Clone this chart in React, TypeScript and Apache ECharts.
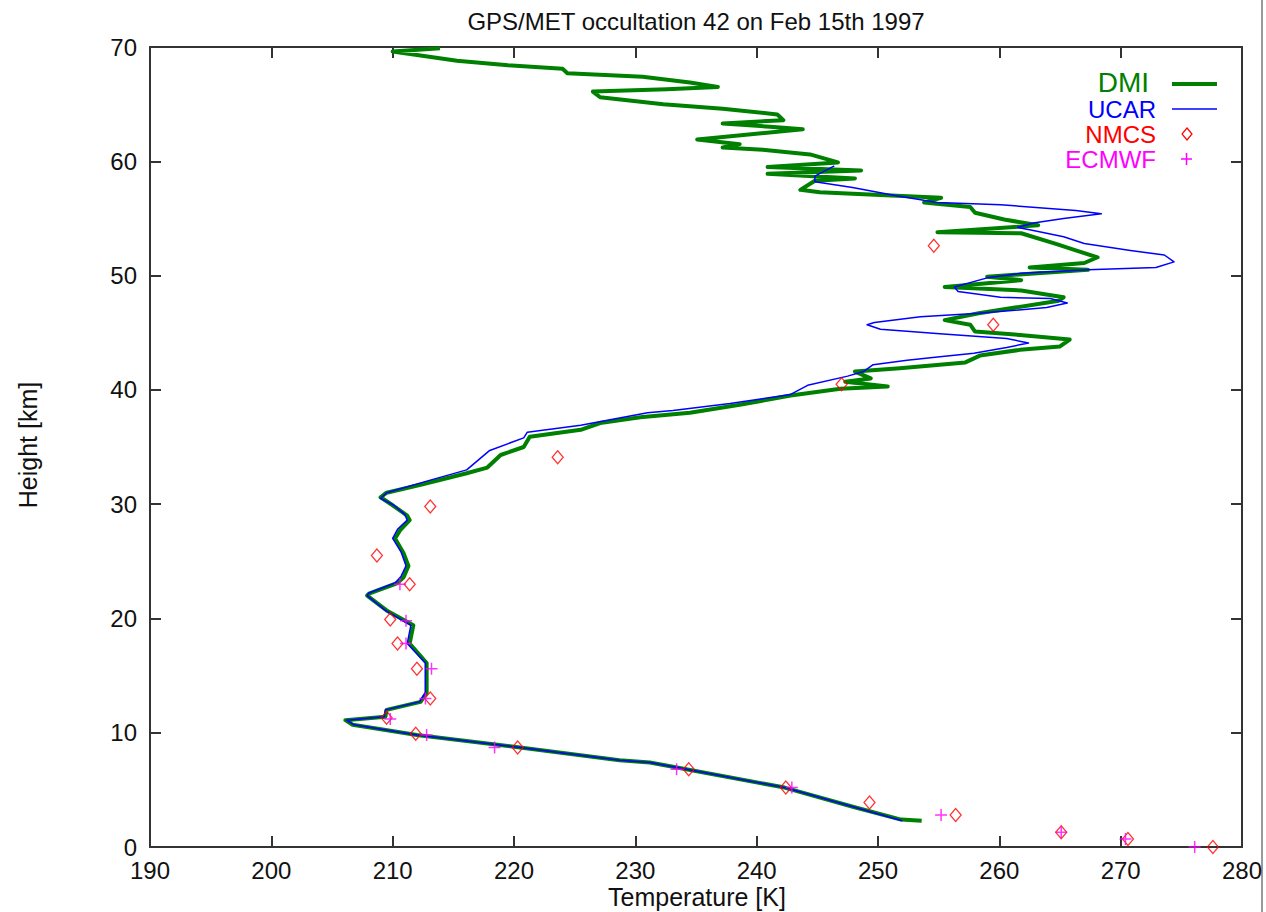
import React, { useEffect, useRef } from "react";
import * as echarts from "echarts";

const TITLE = "GPS/MET occultation 42 on Feb 15th 1997";
const X_NAME = "Temperature [K]";
const Y_NAME = "Height [km]";
const X_MIN = 190;
const X_MAX = 280;
const X_STEP = 10;
const Y_MIN = 0;
const Y_MAX = 70;
const Y_STEP = 10;

const legendNames = ["DMI", "UCAR", "NMCS", "ECMWF"];

const dmiTemperature = [
  213.9, 210.0, 215.3, 219.5, 224.0, 224.4, 230.6, 234.5, 236.8, 232.6, 226.5, 227.1, 232.3, 237.2, 241.7, 242.2,
  237.2, 241.4, 243.8, 235.1, 238.6, 237.2, 240.5, 244.4, 246.7, 240.9, 248.6, 240.9, 248.1, 244.8, 243.6, 245.2,
  255.2, 253.8, 257.6, 258.0, 260.4, 263.2, 254.9, 261.8, 264.6, 266.3, 268.1, 267.0, 262.5, 267.3, 259.0, 261.8,
  255.5, 261.8, 265.3, 264.9, 258.3, 255.5, 257.6, 258.0, 261.7, 265.8, 265.0, 261.7, 258.4, 257.2, 251.8, 248.1,
  249.4, 247.3, 250.8, 246.9, 242.8, 238.6, 234.5, 230.4, 227.1, 225.5, 221.3, 220.8, 218.9, 217.8, 216.1, 212.3,
  209.5, 209.0, 210.0, 211.2, 211.4, 210.6, 210.2, 210.9, 211.3, 210.9, 210.4, 208.1, 207.9, 209.5, 211.7, 211.4,
  212.8, 212.8, 212.3, 209.5, 209.4, 206.1, 206.7, 212.0, 220.5, 228.7, 231.2, 242.3, 248.0, 251.9, 253.6,
];
const dmiHeight = [
  69.9, 69.6, 68.8, 68.4, 68.1, 67.7, 67.4, 66.9, 66.5, 66.3, 66.1, 65.6, 65.0, 64.6, 64.1, 63.6,
  63.3, 63.0, 62.8, 61.9, 61.5, 61.2, 61.0, 60.6, 59.9, 59.5, 59.2, 58.9, 58.5, 58.3, 57.5, 57.3,
  56.8, 56.4, 56.0, 55.5, 54.9, 54.4, 53.8, 53.7, 52.8, 52.2, 51.6, 51.1, 50.7, 50.5, 49.9, 49.6,
  49.0, 48.7, 48.1, 47.8, 46.7, 46.1, 45.7, 45.1, 44.8, 44.4, 43.8, 43.5, 43.0, 42.4, 41.9, 41.6,
  41.0, 40.7, 40.3, 40.1, 39.5, 38.7, 38.0, 37.6, 37.1, 36.5, 35.9, 35.0, 34.3, 33.2, 32.7, 31.7,
  31.0, 30.6, 29.9, 29.0, 28.6, 27.7, 27.0, 25.7, 24.6, 23.6, 23.1, 22.2, 22.0, 20.7, 19.4, 17.8,
  16.1, 13.5, 12.7, 12.0, 11.4, 11.1, 10.7, 9.8, 8.7, 7.6, 7.4, 5.2, 3.5, 2.4, 2.3,
];

const ucarTemperature = [
  246.4, 244.8, 244.8, 247.9, 251.4, 254.9, 260.1, 266.3, 268.4, 265.3, 262.8, 261.5, 262.5, 265.3, 267.0, 270.8,
  273.6, 274.4, 272.9, 267.3, 261.8, 259.0, 256.3, 256.6, 260.1, 264.2, 265.6, 263.9, 258.3, 253.5, 249.7, 249.1,
  250.2, 255.1, 260.6, 262.4, 260.6, 257.9, 255.1, 252.4, 249.6, 248.8, 247.5, 244.2, 242.8, 237.8, 233.1, 231.0,
  225.5, 221.1, 220.8, 218.0, 216.1, 213.1, 209.5, 209.0, 210.1, 211.0, 211.2, 210.4, 210.0, 210.7, 211.1, 210.7,
  210.2, 208.0, 207.9, 209.4, 211.5, 211.2, 212.7, 212.7, 212.2, 209.4, 209.3, 206.2, 206.8, 212.0, 220.5, 228.7,
  231.2, 242.3, 248.0, 252.0,
];
const ucarHeight = [
  59.6, 58.7, 58.2, 57.7, 57.0, 56.4, 56.2, 55.7, 55.4, 55.0, 54.6, 54.2, 54.0, 53.4, 52.8, 52.2,
  51.8, 51.2, 50.7, 50.5, 50.2, 49.8, 49.0, 48.6, 48.1, 48.0, 47.6, 47.2, 46.7, 46.4, 45.9, 45.7,
  45.3, 44.9, 44.5, 44.1, 43.7, 43.2, 42.9, 42.6, 42.2, 41.6, 41.2, 40.4, 39.6, 38.8, 38.2, 38.0,
  36.9, 36.3, 35.8, 34.7, 33.0, 32.1, 31.0, 30.5, 29.9, 29.1, 28.6, 27.8, 27.0, 25.8, 24.6, 23.7,
  23.1, 22.2, 22.0, 20.7, 19.4, 17.8, 16.1, 13.5, 12.7, 12.0, 11.4, 11.1, 10.7, 9.8, 8.7, 7.6,
  7.4, 5.2, 3.5, 2.3,
];

const nmcsTemperature = [
  254.6, 259.5, 247.0, 223.6, 213.1, 208.7, 211.4, 209.8, 210.4, 212.0, 213.1, 209.5, 211.9, 220.3, 234.4, 242.4,
  249.3, 256.4, 265.1, 270.6, 277.6,
];
const nmcsHeight = [
  52.6, 45.7, 40.5, 34.1, 29.8, 25.5, 23.0, 19.9, 17.8, 15.6, 13.0, 11.3, 9.9, 8.7, 6.8, 5.2,
  3.9, 2.8, 1.3, 0.7, 0.0,
];

const ecmwfTemperature = [
  210.6, 211.1, 211.1, 213.2, 212.7, 209.8, 212.8, 218.4, 233.4, 242.9, 255.2, 265.1, 270.4, 276.1,
];
const ecmwfHeight = [23.0, 19.8, 17.8, 15.6, 13.0, 11.2, 9.8, 8.7, 6.8, 5.2, 2.8, 1.3, 0.7, 0.0];

const zip = (xs: number[], ys: number[]) => xs.map((x, i) => [x, ys[i]]);

const FONT = "'Liberation Sans', Arial, Helvetica, sans-serif";
const GREEN = "#008000";
const BLUE = "#0000ff";
const RED = "#ff0000";
const MAGENTA = "#ff00ff";
const AXIS_COLOR = "#333333";
const PLUS = "path://M0,6L12,6M6,0L6,12";

export default function App() {
  const ref = useRef<HTMLDivElement>(null);

  useEffect(() => {
    if (!ref.current) return;
    const chart = echarts.init(ref.current, undefined, { renderer: "svg" });

    const baseX = {
      type: "value" as const,
      min: X_MIN,
      max: X_MAX,
      interval: X_STEP,
      splitLine: { show: false },
      axisLine: { show: true, onZero: false, lineStyle: { color: AXIS_COLOR, width: 2 } },
      axisTick: { show: true, inside: true, length: 11, lineStyle: { color: AXIS_COLOR, width: 2 } },
    };
    const baseY = {
      type: "value" as const,
      min: Y_MIN,
      max: Y_MAX,
      interval: Y_STEP,
      splitLine: { show: false },
      axisLine: { show: true, onZero: false, lineStyle: { color: AXIS_COLOR, width: 2 } },
      axisTick: { show: true, inside: true, length: 11, lineStyle: { color: AXIS_COLOR, width: 2 } },
    };

    const legendY = [82, 109, 134, 159];
    const legendColors = [GREEN, BLUE, RED, MAGENTA];
    const legendTextRight = [1149, 1156, 1156, 1156];
    const legendFont = [28, 24, 24, 24];

    const graphics: any[] = [];
    legendNames.forEach((name, i) => {
      graphics.push({
        type: "text",
        x: legendTextRight[i],
        y: legendY[i],
        style: {
          text: name,
          fill: legendColors[i],
          font: `${legendFont[i]}px ${FONT}`,
          lineHeight: i === 0 ? 26 : 22,
          align: "right",
          verticalAlign: "middle",
        },
      });
    });
    graphics.push({
      type: "line",
      shape: { x1: 1172, y1: 84, x2: 1217, y2: 84 },
      style: { stroke: GREEN, lineWidth: 4 },
    });
    graphics.push({
      type: "line",
      shape: { x1: 1172, y1: legendY[1], x2: 1217, y2: legendY[1] },
      style: { stroke: BLUE, lineWidth: 1.5 },
    });
    graphics.push({
      type: "polygon",
      shape: {
        points: [
          [1187, legendY[2] - 6],
          [1192, legendY[2]],
          [1187, legendY[2] + 6],
          [1182, legendY[2]],
        ],
      },
      style: { fill: "none", stroke: RED, lineWidth: 1.2 },
    });
    graphics.push({
      type: "line",
      shape: { x1: 1181, y1: legendY[3], x2: 1192, y2: legendY[3] },
      style: { stroke: MAGENTA, lineWidth: 1.5 },
    });
    graphics.push({
      type: "line",
      shape: { x1: 1186.5, y1: legendY[3] - 6, x2: 1186.5, y2: legendY[3] + 6 },
      style: { stroke: MAGENTA, lineWidth: 1.5 },
    });
    graphics.push({
      type: "text",
      x: 696,
      y: 21,
      style: { text: TITLE, fill: "#111", font: `24px ${FONT}`, align: "center", verticalAlign: "middle" },
    });
    graphics.push({
      type: "text",
      x: 697,
      y: 897,
      style: { text: X_NAME, fill: "#111", font: `25px ${FONT}`, align: "center", verticalAlign: "middle" },
    });
    graphics.push({
      type: "text",
      x: 28,
      y: 445,
      rotation: Math.PI / 2,
      style: { text: Y_NAME, fill: "#111", font: `25px ${FONT}`, align: "center", verticalAlign: "middle" },
    });
    graphics.push({
      type: "line",
      shape: { x1: 1262, y1: 0, x2: 1262, y2: 912 },
      style: { stroke: "#9a9a9a", lineWidth: 2 },
    });

    chart.setOption({
      animation: false,
      backgroundColor: "#ffffff",
      grid: { left: 150, right: 24, top: 47, bottom: 65, containLabel: false },
      xAxis: [
        {
          ...baseX,
          position: "bottom",
          axisLabel: { show: true, margin: 11, color: "#111", fontSize: 24, fontFamily: FONT },
        },
        { ...baseX, position: "top", axisLabel: { show: false } },
      ],
      yAxis: [
        {
          ...baseY,
          position: "left",
          axisLabel: { show: true, margin: 13, color: "#111", fontSize: 24, fontFamily: FONT },
        },
        { ...baseY, position: "right", axisLabel: { show: false } },
      ],
      series: [
        {
          name: legendNames[0],
          type: "line",
          xAxisIndex: 0,
          yAxisIndex: 0,
          data: zip(dmiTemperature, dmiHeight),
          showSymbol: false,
          symbol: "none",
          lineStyle: { color: GREEN, width: 4, join: "round" },
          z: 2,
        },
        {
          name: legendNames[1],
          type: "line",
          xAxisIndex: 0,
          yAxisIndex: 0,
          data: zip(ucarTemperature, ucarHeight),
          showSymbol: false,
          symbol: "none",
          lineStyle: { color: BLUE, width: 1.5, join: "round" },
          z: 3,
        },
        {
          name: legendNames[2],
          type: "scatter",
          xAxisIndex: 0,
          yAxisIndex: 0,
          data: zip(nmcsTemperature, nmcsHeight),
          symbol: "diamond",
          symbolSize: [11, 13],
          itemStyle: { color: "rgba(255,255,255,0)", borderColor: RED, borderWidth: 1.3 },
          z: 4,
        },
        {
          name: legendNames[3],
          type: "scatter",
          xAxisIndex: 0,
          yAxisIndex: 0,
          data: zip(ecmwfTemperature, ecmwfHeight),
          symbol: PLUS,
          symbolSize: 12,
          itemStyle: { color: "rgba(255,255,255,0)", borderColor: MAGENTA, borderWidth: 1.5 },
          z: 5,
        },
      ],
      graphic: graphics,
    });

    return () => chart.dispose();
  }, []);

  return (
    <div
      ref={ref}
      style={{ position: "fixed", left: 0, top: 0, width: 1266, height: 912, background: "#fff" }}
    />
  );
}
